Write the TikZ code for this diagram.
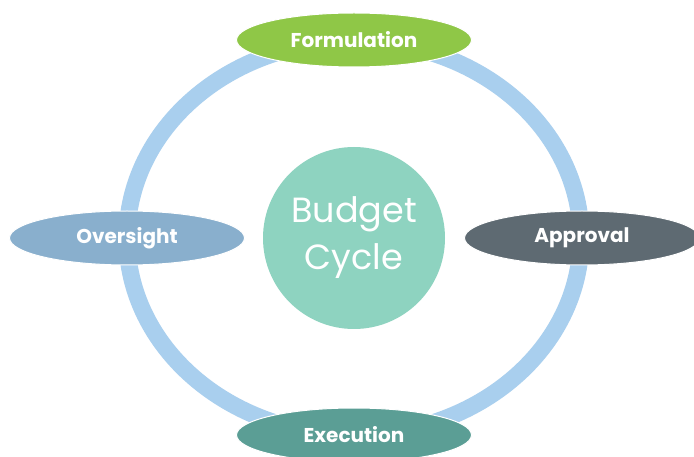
\documentclass[tikz,border=0pt]{standalone}
\usepackage{fontspec}
\newfontfamily\pop{Poppins}
\usetikzlibrary{shapes.geometric}
\definecolor{ringblue}{HTML}{A9CFEE}
\definecolor{formgreen}{HTML}{8FC747}
\definecolor{overblue}{HTML}{89AFCD}
\definecolor{approvgray}{HTML}{5E6A72}
\definecolor{exectea}{HTML}{5B9E95}
\definecolor{hubmint}{HTML}{8ED3C0}
\begin{document}
\begin{tikzpicture}[x=1pt,y=-1pt,
  stage/.style={ellipse, draw=white, line width=1pt, minimum width=235pt,
    minimum height=54pt, inner sep=0pt, text=white,
    font=\pop\bfseries\fontsize{20}{24}\selectfont},
  hubstyle/.style={circle, fill=hubmint, minimum size=182pt, inner sep=0pt,
    text=white, align=center, font=\pop\fontsize{35}{47}\selectfont}]
\useasboundingbox (0,0) rectangle (694,457);
\fill[white] (0,0) rectangle (694,457);
\coordinate (c) at (354,238);
\draw[ringblue, line width=17pt] (c) ellipse [x radius=227, y radius=197];
\node[hubstyle] (hub) at (c) {Budget\\Cycle};
\node[stage, fill=formgreen] (form) at (354,40) {Formulation};
\node[stage, fill=overblue] (over) at (127,238) {Oversight};
\node[stage, fill=approvgray] (appr) at (582,238) {Approval};
\node[stage, fill=exectea] (exec) at (354,435) {Execution};
\end{tikzpicture}
\end{document}
